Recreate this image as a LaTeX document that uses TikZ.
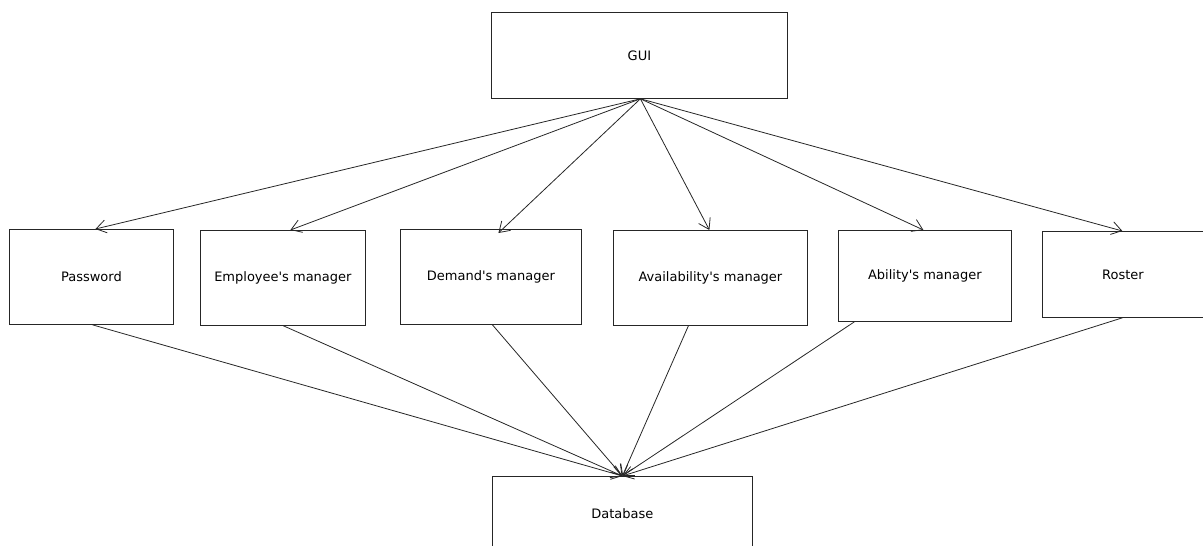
\documentclass[tikz,border=0pt]{standalone}
\usepackage{fontspec}
\setmainfont{DejaVu Sans}
\usetikzlibrary{arrows.meta}
\begin{document}
\begin{tikzpicture}[x=1pt,y=-1pt,
  box/.style={draw=black!85,line width=0.8pt,rectangle,inner sep=0pt,anchor=north west,
    font=\fontsize{13}{15}\selectfont},
  link/.style={draw=black!85,line width=0.8pt,-{Straight Barb[length=10pt,width=13pt,line width=0.8pt]}},
  feed/.style={draw=black!85,line width=0.8pt,-{Straight Barb[length=10pt,width=13pt,line width=0.8pt]}}]
\useasboundingbox (0,0) rectangle (1203,546);
\clip (0,0) rectangle (1203,546);
% modules
\node[box,minimum width=296pt,minimum height=86pt] (gui) at (491,12) {GUI};
\node[box,minimum width=164pt,minimum height=95pt] (pw) at (9,229) {Password};
\node[box,minimum width=165pt,minimum height=95pt] (emp) at (200,230) {Employee\textquotesingle s manager};
\node[box,minimum width=181pt,minimum height=95pt] (dem) at (400,229) {Demand\textquotesingle s manager};
\node[box,minimum width=194pt,minimum height=95pt] (ava) at (613,230) {Availability\textquotesingle s manager};
\node[box,minimum width=173pt,minimum height=91pt] (abi) at (838,230) {Ability\textquotesingle s manager};
\node[box,minimum width=161pt,minimum height=86pt] (ros) at (1042,231) {Roster};
\node[box,minimum width=260pt,minimum height=74pt] (db) at (492,476) {Database};
% GUI to each module
\coordinate (g) at ([xshift=1pt]gui.south);
\draw[link] (g) -- ([xshift=4pt]pw.north);
\draw[link] (g) -- ([xshift=7.5pt]emp.north);
\draw[link] (g) -- ([xshift=7.5pt,yshift=-4pt]dem.north);
\draw[link] (g) -- ([xshift=-1pt]ava.north);
\draw[link] (g) -- ([xshift=-1.5pt]abi.north);
\draw[link] (g) -- ([xshift=-0.5pt]ros.north);
% each module to the database
\coordinate (d) at ([xshift=0pt]db.north);
\draw[feed] ([xshift=1pt]pw.south) -- (d);
\draw[feed] ([xshift=0.5pt]emp.south) -- (d);
\draw[feed] ([xshift=1.5pt]dem.south) -- (d);
\draw[feed] ([xshift=-22pt]ava.south) -- (d);
\draw[feed] ([xshift=-70.5pt]abi.south) -- (d);
\draw[feed] ([xshift=-0.5pt]ros.south) -- (d);
\end{tikzpicture}
\end{document}
